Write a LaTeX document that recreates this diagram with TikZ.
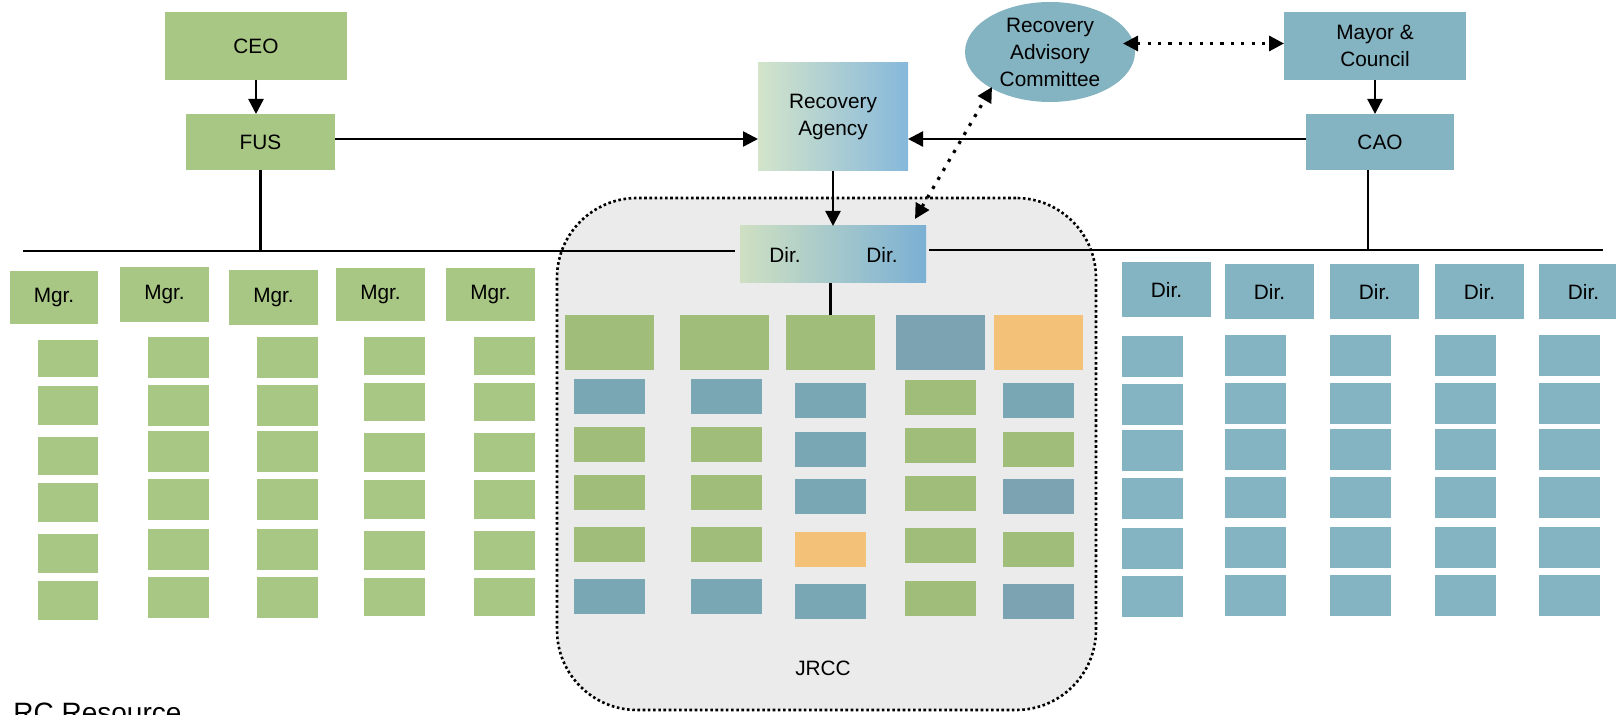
\documentclass[tikz,border=0pt]{standalone}
\usepackage{fontspec}
\setmainfont{Liberation Sans}
\usetikzlibrary{arrows.meta,shapes.geometric}
\definecolor{lgreen}{HTML}{A9C784}
\definecolor{jgreen}{HTML}{A0BE7A}
\definecolor{rblue}{HTML}{84B3C1}
\definecolor{jblue}{HTML}{79A7B4}
\definecolor{jbluetwo}{HTML}{7CA3B2}
\definecolor{jorange}{HTML}{F4C178}
\definecolor{jgray}{HTML}{EBEBEB}
\definecolor{gradg}{HTML}{D3E4CA}
\definecolor{gradb}{HTML}{86B8DB}
\definecolor{gradgb}{HTML}{CFE0C2}
\definecolor{gradbb}{HTML}{7BB0D4}
\newcommand\bx[7]{\node[box,#6,minimum width={(#4-#2)*0.5pt},minimum height={(#5-#3)*0.5pt}] (#1) at ({(#2+#4)/2},{(#3+#5)/2}) {#7};}
\tikzset{
 lbl/.style={font=\fontsize{10.4}{13.5}\selectfont, align=center},
 box/.style={rectangle, draw=none, inner sep=0pt, outer sep=0pt, lbl},
 conn/.style={line width=1.2pt, draw=black},
 arr/.style={conn, arrows={-Triangle[length=7.5pt,width=7.5pt]}},
 dotarr/.style={line width=1.6pt, dash pattern=on 1.6pt off 3.6pt, arrows={Triangle[length=7.5pt,width=7.5pt]-Triangle[length=7.5pt,width=7.5pt]}},
}
\begin{document}
\begin{tikzpicture}[x=0.5pt,y=-0.5pt]
\useasboundingbox (0,0) rectangle (1616,715);
% JRCC background
\bx{jrcc}{557}{198}{1096}{710}{fill=jgray,draw=black,line width=1.3pt,dash pattern=on 1.3pt off 1.3pt,rounded corners=40pt}{}
\node[box] (jlabel) at (823,668) {JRCC};
% top level
\bx{ceo}{165}{12}{347}{80}{fill=lgreen}{CEO}
\bx{fus}{186}{114}{335}{170}{fill=lgreen}{FUS}
\bx{ra}{758}{63}{908}{171}{left color=gradg,right color=gradb}{Recovery\\Agency}
\node[ellipse, fill=rblue, minimum width=85pt, minimum height=50pt, inner sep=0pt, lbl] (rac) at (1050,52) {Recovery\\Advisory\\Committee};
\bx{mayor}{1284}{12}{1466}{80}{fill=rblue}{Mayor \&\\Council}
\bx{cao}{1306}{114}{1454}{170}{fill=rblue}{CAO}
\bx{dirs}{740}{226}{926}{283}{left color=gradgb,right color=gradbb}{}
\node[box] (dirA) at (785,255) {Dir.};
\node[box] (dirB) at (882,255) {Dir.};
% managers
\foreach \n/\xa/\ya/\xb/\yb in {1/10/271/98/324, 2/120/267/209/322, 3/229/270/318/325, 4/336/268/425/321, 5/446/268/535/321}
  {\bx{mgr\n}{\xa}{\ya}{\xb}{\yb}{fill=lgreen}{Mgr.}}
% right directors
\foreach \n/\xa/\ya/\xb/\yb in {1/1122/262/1211/317, 2/1225/264/1314/319, 3/1330/264/1419/319, 4/1435/264/1524/319, 5/1539/264/1628/319}
  {\bx{rdir\n}{\xa}{\ya}{\xb}{\yb}{fill=rblue}{Dir.}}
% left grid
\foreach \ya/\yb [count=\j] in {340/377,386/425,437/475,483/522,534/573,581/620}
  {\bx{la\j}{38}{\ya}{98}{\yb}{fill=lgreen}{}}
\foreach \xa/\xb/\nm in {148/209/b,257/318/c}
  {\foreach \ya/\yb [count=\j] in {337/378,385/426,431/472,479/520,529/570,577/618}
    {\bx{l\nm\j}{\xa}{\ya}{\xb}{\yb}{fill=lgreen}{}}}
\foreach \xa/\xb/\nm in {364/425/d,474/535/e}
  {\foreach \ya/\yb [count=\j] in {337/375,383/421,433/472,480/519,531/570,578/616}
    {\bx{l\nm\j}{\xa}{\ya}{\xb}{\yb}{fill=lgreen}{}}}
% right grid
\foreach \ya/\yb [count=\j] in {336/377,384/425,430/471,478/519,528/569,576/617}
  {\bx{ra\j}{1122}{\ya}{1183}{\yb}{fill=rblue}{}}
\foreach \xa/\xb/\nm in {1225/1286/b,1330/1391/c,1435/1496/d,1539/1600/e}
  {\foreach \ya/\yb [count=\j] in {335/376,383/424,429/470,477/518,527/568,575/616}
    {\bx{r\nm\j}{\xa}{\ya}{\xb}{\yb}{fill=rblue}{}}}
% JRCC top row
\foreach \xa/\xb/\cl/\n in {565/654/jgreen/1,680/769/jgreen/2,786/875/jgreen/3,896/985/jbluetwo/4,994/1083/jorange/5}
  {\bx{j\n}{\xa}{315}{\xb}{370}{fill=\cl}{}}
% JRCC cells
\foreach \xa/\xb/\nm in {574/645/a,691/762/b}
  {\foreach \ya/\yb/\cl [count=\j] in {379/414/jblue,427/462/jgreen,475/510/jgreen,527/562/jgreen,579/614/jblue}
    {\bx{jc\nm\j}{\xa}{\ya}{\xb}{\yb}{fill=\cl}{}}}
\foreach \ya/\yb/\cl [count=\j] in {383/418/jblue,432/467/jblue,479/514/jblue,532/567/jorange,584/619/jblue}
  {\bx{jcc\j}{795}{\ya}{866}{\yb}{fill=\cl}{}}
\foreach \ya/\yb [count=\j] in {380/415,428/463,476/511,528/563,581/616}
  {\bx{jcd\j}{905}{\ya}{976}{\yb}{fill=jgreen}{}}
\foreach \ya/\yb/\cl [count=\j] in {383/418/jblue,432/467/jgreen,479/514/jbluetwo,532/567/jgreen,584/619/jbluetwo}
  {\bx{jce\j}{1003}{\ya}{1074}{\yb}{fill=\cl}{}}
% connectors
\coordinate (hy) at (0,139);
\coordinate (busL) at (23,251);
\coordinate (busR) at (1603,250);
\draw[arr] (ceo.south) -- (ceo.south |- fus.north);
\draw[arr] (fus.east |- hy) -- (ra.west |- hy);
\draw[arr] (cao.west |- hy) -- (ra.east |- hy);
\draw[arr] (mayor.south) -- (mayor.south |- cao.north);
\draw[arr] (ra.south) -- (dirs.north);
\draw[conn] (j3.north |- dirs.south) -- (j3.north);
\draw[conn] (busL) -- ([xshift=-2.5pt]dirs.west |- busL);
\draw[conn] ([xshift=1.5pt]dirs.east |- busR) -- (busR);
\draw[conn] (fus.south) -- (fus.south |- busL);
\draw[conn] ([xshift=-6pt]cao.south) -- ([xshift=-6pt]cao.south |- busR);
\coordinate (racE) at (1123,43.5);
\draw[dotarr] (racE) -- (mayor.west |- racE);
\coordinate (racS) at (992,87);
\coordinate (dirT) at (915,219);
\draw[dotarr] (dirT) -- (racS);
% footer text (cut off at the bottom edge, as in the reference)
\node[anchor=base west, inner sep=0pt, font=\fontsize{14}{16}\selectfont] (rc) at (13,722) {RC Resource};
\end{tikzpicture}
\end{document}
